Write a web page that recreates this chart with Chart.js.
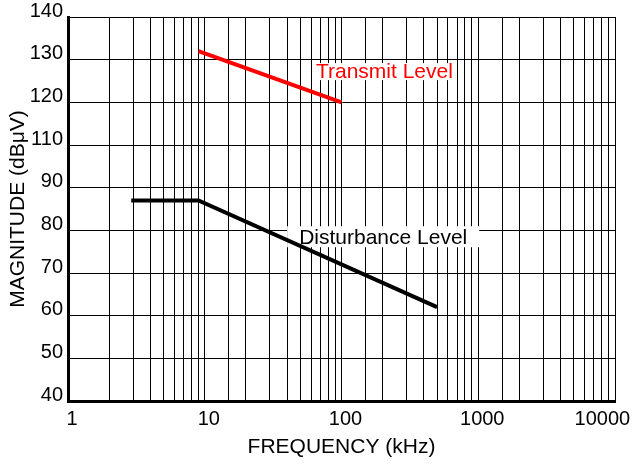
<!DOCTYPE html>
<html>
<head>
<meta charset="utf-8">
<script src="https://cdn.jsdelivr.net/npm/chart.js@4/dist/chart.umd.min.js"></script>
<style>
  body { margin: 0; background: #fff; }
  #wrap { width: 635px; height: 464px; }
</style>
</head>
<body>
<div id="wrap"><canvas id="chart"></canvas></div>
<script>
// tick labels on the magnitude axis (the original skips 100)
var yTickLabels = [40, 50, 60, 70, 80, 90, 110, 120, 130, 140];

// frequency in kHz, magnitude in dBuV
var transmitFreq = [9, 100];
var transmitLevel = [132, 120];
var disturbFreq = [2.9, 9, 500];
var disturbLevel = [87, 87, 62];

var FONT = "'Liberation Sans', Arial, Helvetica, sans-serif";

// map a dBuV reading onto the evenly spaced tick positions
function yPos(v) {
  for (var i = 0; i < yTickLabels.length - 1; i++) {
    var a = yTickLabels[i], b = yTickLabels[i + 1];
    if (v <= b || i == yTickLabels.length - 2) {
      return i + (v - a) / (b - a);
    }
  }
}

function points(xs, ys) {
  return xs.map(function (x, i) { return { x: x, y: yPos(ys[i]) }; });
}

var labelBoxes = {
  id: 'labelBoxes',
  beforeDatasetsDraw: function (chart) {
    var ctx = chart.ctx;
    var xs = chart.scales.x, ys = chart.scales.y;
    var items = [
      { text: 'Transmit Level', color: '#ff0000', f: 65, v: 127.2, px: 3, py: 8.5 },
      { text: 'Disturbance Level', color: '#000000', f: 49, v: 78.5, px: 12, py: 10.5 }
    ];
    ctx.save();
    ctx.font = '21px ' + FONT;
    ctx.textBaseline = 'middle';
    ctx.textAlign = 'left';
    items.forEach(function (it) {
      var x = xs.getPixelForValue(it.f);
      var y = ys.getPixelForValue(yPos(it.v));
      var w = ctx.measureText(it.text).width;
      ctx.fillStyle = '#fff';
      ctx.fillRect(x - it.px, y - it.py, w + it.px * 2, it.py * 2);
      ctx.fillStyle = it.color;
      ctx.fillText(it.text, x, y + 1);
    });
    ctx.restore();
  }
};

function fixWidth(w) {
  return function (scale) {
    scale.width = w;
    scale.paddingTop = 0; scale.paddingBottom = 0;
    scale.paddingLeft = 0; scale.paddingRight = 0;
  };
}
function fixHeight(h) {
  return function (scale) {
    scale.height = h;
    scale.paddingTop = 0; scale.paddingBottom = 0;
    scale.paddingLeft = 0; scale.paddingRight = 0;
  };
}

new Chart(document.getElementById('chart'), {
  type: 'line',
  data: {
    datasets: [{
      label: 'Transmit Level',
      data: points(transmitFreq, transmitLevel),
      borderColor: '#ff0000',
      borderWidth: 4,
      pointRadius: 0,
      fill: false
    }, {
      label: 'Disturbance Level',
      data: points(disturbFreq, disturbLevel),
      borderColor: '#000000',
      borderWidth: 4,
      pointRadius: 0,
      fill: false
    }]
  },
  plugins: [labelBoxes],
  options: {
    responsive: true,
    maintainAspectRatio: false,
    animation: false,
    layout: { padding: { top: 17, right: 20, left: 0, bottom: 0 } },
    plugins: {
      legend: { display: false },
      tooltip: { enabled: false }
    },
    scales: {
      x: {
        type: 'logarithmic',
        min: 1,
        max: 10000,
        afterFit: fixHeight(63),
        grid: { color: '#000', lineWidth: 1, drawTicks: false },
        border: { display: true, color: '#000', width: 3 },
        ticks: {
          autoSkip: false,
          maxRotation: 0,
          padding: 6,
          labelOffset: 4,
          color: '#000',
          font: { family: FONT, size: 20 },
          callback: function (val) {
            var l = Math.log10(val);
            if (Math.abs(l - Math.round(l)) > 1e-9) return '';
            if (val == 10000) return '10000\u2007\u2007\u2007';
            return String(val);
          }
        },
        title: {
          display: true,
          text: 'FREQUENCY (kHz)',
          color: '#000',
          font: { family: FONT, size: 21 },
          padding: { top: 0, bottom: 4 }
        }
      },
      y: {
        type: 'linear',
        min: 0,
        max: yTickLabels.length - 1,
        afterFit: fixWidth(68),
        grid: { color: '#000', lineWidth: 1, drawTicks: false },
        border: { display: true, color: '#000', width: 3 },
        ticks: {
          stepSize: 1,
          padding: 5,
          labelOffset: -6,
          color: '#000',
          font: { family: FONT, size: 20 },
          callback: function (val) { return String(yTickLabels[val]); }
        },
        title: {
          display: true,
          text: 'MAGNITUDE (dB\u03bcV)',
          color: '#000',
          font: { family: FONT, size: 21 },
          padding: { top: 6, bottom: 0 }
        }
      }
    }
  }
});
</script>
</body>
</html>
